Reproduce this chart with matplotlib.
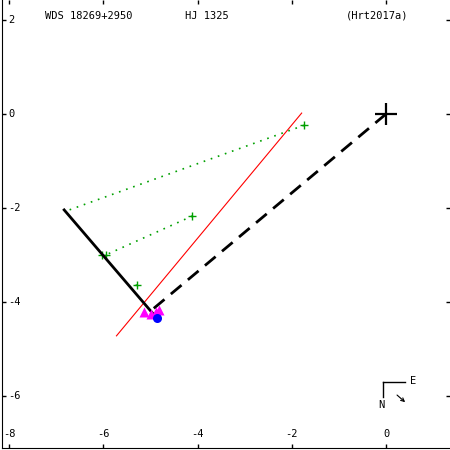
import matplotlib.pyplot as plt

# orbit / measurement data (arcsec)
primary = (0.0, 0.0)
orbit_x = [-6.83, -4.90]
orbit_y = [-2.04, -4.30]
radius_x = [0.0, -4.97]
radius_y = [0.0, -4.17]
node_x = [-5.72, -1.79]
node_y = [-4.72, 0.02]

obs_x = [-1.74, -4.11, -5.28]
obs_y = [-0.24, -2.17, -3.64]
res_x = [[-1.74, -6.72], [-4.11, -5.95], [-5.28, -5.40]]
res_y = [[-0.24, -2.04], [-2.17, -3.00], [-3.64, -3.66]]
extra_x = [-6.02, -5.95]
extra_y = [-3.00, -3.00]

tri_x = [-5.13, -4.81, -4.98, -4.88]
tri_y = [-4.21, -4.17, -4.26, -4.21]
now_x = [-4.87]
now_y = [-4.34]

xticks = [-8, -6, -4, -2, 0]
yticks = [2, 0, -2, -4, -6]

mono = "DejaVu Sans Mono"

fig = plt.figure(figsize=(4.5, 4.5), dpi=100)
ax = fig.add_axes([2 / 450, 2 / 450, 448 / 450, 448 / 450])
ax.set_xlim(-8.149, 1.358)
ax.set_ylim(-7.106, 2.426)

ax.plot(node_x, node_y, color="red", lw=0.8)
for rx, ry in zip(res_x, res_y):
    ax.plot(rx, ry, color="#00a000", lw=1.2, linestyle=(0, (1, 3.5)))
ax.plot(obs_x + extra_x, obs_y + extra_y, "+", color="#00a000", ms=6, mew=1)
ax.plot(radius_x, radius_y, color="black", lw=2, linestyle=(0, (5, 3)))
ax.plot(orbit_x, orbit_y, color="black", lw=2)
ax.plot(tri_x, tri_y, "^", color="#ff00ff", ms=7.5, mec="none")
ax.plot(now_x, now_y, "o", color="#0000ff", ms=6.5, mec="none")
ax.plot(*primary, "+", color="black", ms=16, mew=1.6)

# compass
ax.plot([-0.06, 0.40], [-5.70, -5.70], color="black", lw=1)
ax.plot([-0.06, -0.06], [-5.70, -6.02], color="black", lw=1)
ax.text(0.50, -5.68, "E", fontsize=7.5, family=mono, va="center")
ax.text(-0.09, -6.19, "N", fontsize=7.5, family=mono, va="center", ha="center")
ax.annotate("", xy=(0.45, -6.17), xytext=(0.19, -5.94),
            arrowprops=dict(arrowstyle="->", lw=0.8, color="black",
                            mutation_scale=6))

ax.set_xticks(xticks)
ax.set_yticks(yticks)
ax.set_xticklabels([])
ax.set_yticklabels([])
ax.tick_params(direction="in", length=3, width=1, top=True, right=True)
ax.spines["top"].set_visible(False)
ax.spines["right"].set_visible(False)

for t in xticks:
    ax.text(t, 0.031, str(t), transform=ax.get_xaxis_transform(),
            ha="center", va="center", fontsize=7.5, family=mono)
for t in yticks:
    ax.text(6 / 448, t, str(t), transform=ax.get_yaxis_transform(),
            ha="left", va="center", fontsize=7.5, family=mono)

fig.text(45 / 450, 1 - 16 / 450, "WDS 18269+2950", fontsize=7.5, family=mono, va="center")
fig.text(185 / 450, 1 - 16 / 450, "HJ 1325", fontsize=7.5, family=mono, va="center")
fig.text(346 / 450, 1 - 16 / 450, "(Hrt2017a)", fontsize=7.5, family=mono, va="center")

fig.savefig("out.png", dpi=100)
